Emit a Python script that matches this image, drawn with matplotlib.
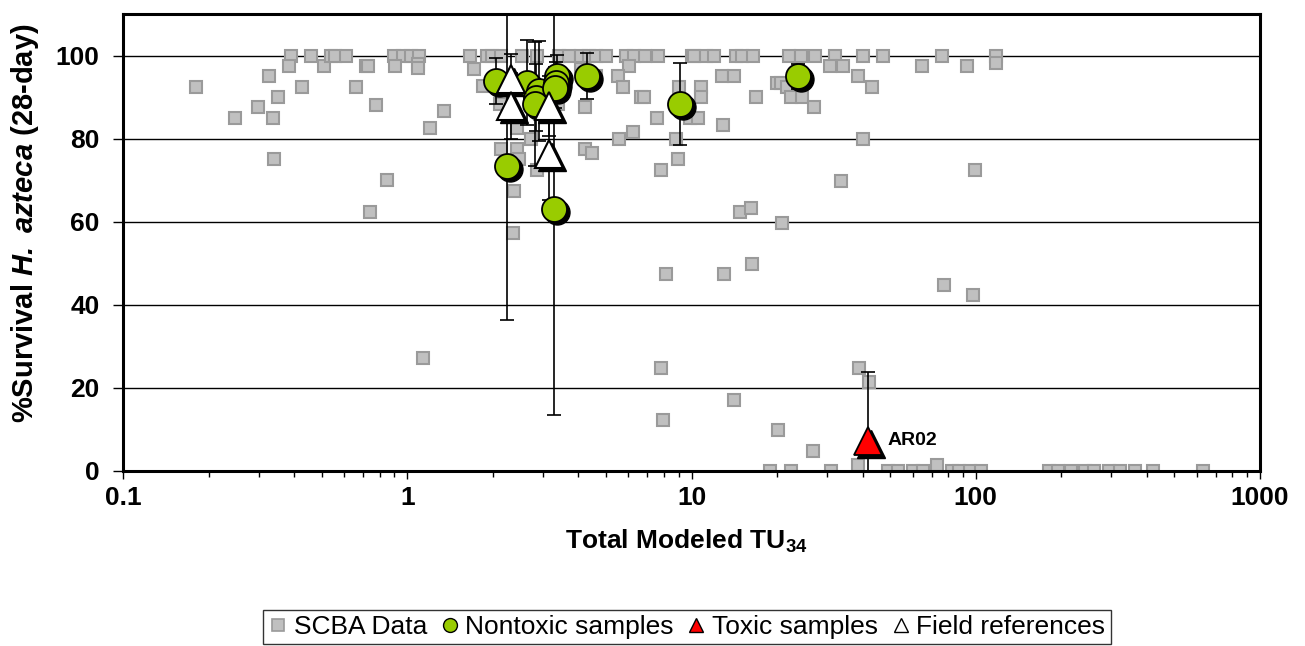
import matplotlib
matplotlib.use('Agg')
import matplotlib.pyplot as plt
import numpy as np
from matplotlib.lines import Line2D
from matplotlib.ticker import NullFormatter
from matplotlib.transforms import offset_copy

plt.rcParams['font.family'] = ['Liberation Sans', 'DejaVu Sans']
plt.rcParams['mathtext.fontset'] = 'custom'
plt.rcParams['mathtext.rm'] = 'Liberation Sans'
plt.rcParams['mathtext.bf'] = 'Liberation Sans:bold'
plt.rcParams['mathtext.bfit'] = 'Liberation Sans:italic:bold'

# SCBA data (total modeled TU34, % survival)
scba_tu = [0.18, 0.248, 0.298, 0.325, 0.336, 0.352, 0.339, 0.389, 0.383, 0.46, 0.425, 0.51,
           0.54, 0.555, 0.611, 0.658, 0.713, 0.727, 0.775, 0.741, 0.848, 0.897, 0.968, 1.03,
           1.10, 0.904, 1.09, 1.09, 1.20, 1.345, 1.135,
           1.66, 1.71, 1.91, 1.99, 2.13, 1.84, 2.12, 2.43, 2.54, 2.87, 2.72, 2.14, 2.43, 2.47,
           2.37, 2.35, 2.85, 3.39, 3.42, 3.71, 4.08, 4.36, 4.60, 4.99, 4.08, 4.21, 4.21, 4.48,
           4.60, 5.87, 6.29, 6.85, 7.63, 10.0, 6.03, 5.51, 5.76, 6.63, 6.80, 7.55, 6.20, 5.57,
           7.84, 8.93, 8.81, 9.04, 9.87, 10.5, 8.14, 7.84, 7.92,
           10.2, 11.2, 12.0, 14.3, 15.1, 16.4, 22.1, 24.3, 27.2, 32.0, 40.2, 47.3, 76.3, 118,
           118, 10.8, 10.8, 12.8, 14.1, 16.8, 12.9, 20.0, 20.6, 21.7, 22.3, 24.4, 27.0, 30.6,
           34.2, 38.4, 43.1, 64.7, 93.1, 40.0, 33.7, 99.7, 14.8, 16.2, 20.8, 13.0, 16.3, 77.1,
           98.1, 14.1, 20.1, 26.7, 38.9, 42.2, 38.4, 73.1,
           18.9, 22.4, 30.9, 49.2, 53.1, 60.0, 65.4, 82.3, 87.5, 95.7, 104.4, 181.6, 194.5,
           216.6, 242.7, 261.6, 295.5, 322, 363.8, 420, 630]
scba_surv = [92.5, 85, 87.5, 95, 85, 90, 75, 100, 97.5, 100, 92.5, 97.5,
             100, 100, 100, 92.5, 97.5, 97.5, 88.2, 62.4, 70, 100, 100, 100,
             100, 97.5, 98, 97, 82.5, 86.7, 27.3,
             100, 96.7, 100, 100, 100, 92.7, 88.3, 82.6, 100, 100, 80, 77.5, 77.5, 75,
             67.3, 57.4, 72.4, 88.3, 100, 100, 100, 100, 100, 100, 96.7, 87.5, 77.5, 76.6,
             95, 100, 100, 100, 100, 100, 97.5, 95, 92.5, 90, 90, 85, 81.6, 80,
             72.4, 75, 80, 92.5, 85, 85, 47.3, 24.7, 12.3,
             100, 100, 100, 100, 100, 100, 100, 100, 100, 100, 100, 100, 100, 100,
             98.2, 92.5, 90, 95, 95, 90, 83.3, 93.3, 93.3, 92.5, 90, 90, 87.5, 97.5,
             97.5, 95, 92.5, 97.5, 97.5, 80, 69.9, 72.4, 62.4, 63.2, 59.8, 47.3, 49.9, 44.8,
             42.3, 17.2, 9.75, 4.8, 24.7, 21.5, 1.4, 1.4,
             0, 0, 0, 0, 0, 0, 0, 0, 0, 0, 0, 0, 0,
             0, 0, 0, 0, 0, 0, 0, 0]

# Nontoxic samples
nt_tu = [2.05, 2.25, 2.63, 2.91, 2.83, 2.81, 3.37, 3.33, 3.30, 3.28, 4.30, 9.09, 23.6]
nt_surv = [93.8, 73.3, 93.5, 91.5, 89.9, 88.3, 95.1, 93.5, 92.3, 63.1, 95.1, 88.3, 95.0]
nt_sd = [5.5, 36.9, 10.3, 12.0, 8.0, 15.0, 5.0, 5.0, 5.0, 49.6, 5.6, 9.9, 3.0]

# Toxic samples
tox_tu = [41.7]
tox_surv = [7.3]
tox_sd = [16.6]
tox_labels = ['AR02']

# Field references
fr_tu = [2.32, 2.31, 3.15, 3.15]
fr_surv = [94.3, 87.9, 87.9, 76.2]
fr_sd = [6.0, 8.0, 7.3, 11.0]

green = '#99cc00'
sq_face = '#c0c0c0'
sq_edge = '#9a9a9a'

fig = plt.figure(figsize=(13.05, 6.46), dpi=100)
ax = fig.add_axes([0.0943, 0.2709, 0.8712, 0.7074])
ax.set_xscale('log')
ax.set_xlim(0.1, 1000)
ax.set_ylim(0, 110)

ax.yaxis.grid(True, color='black', linewidth=1.0)
ax.set_axisbelow(True)

ax.plot(scba_tu, scba_surv, 's', ms=8, mfc=sq_face, mec=sq_edge, mew=1.5, zorder=3)

# error bars
for xs, ys, es in [(nt_tu, nt_surv, nt_sd), (fr_tu, fr_surv, fr_sd), (tox_tu, tox_surv, tox_sd)]:
    ax.errorbar(xs, ys, yerr=es, fmt='none', ecolor='black', elinewidth=1.2,
                capsize=5, capthick=1.2, zorder=4)

# shadows
shadow = offset_copy(ax.transData, fig=fig, x=3, y=-3, units='dots')
ax.plot(nt_tu, nt_surv, 'o', ms=18, mfc='black', mec='black', transform=shadow, zorder=5)
ax.plot(fr_tu, fr_surv, '^', ms=20, mfc='black', mec='black', transform=shadow, zorder=5)
ax.plot(tox_tu, tox_surv, '^', ms=20, mfc='black', mec='black', transform=shadow, zorder=5)

ax.plot(nt_tu, nt_surv, 'o', ms=18, mfc=green, mec='black', mew=1.3, zorder=6)
ax.plot(fr_tu, fr_surv, '^', ms=20, mfc='white', mec='black', mew=1.5, zorder=6)
ax.plot(tox_tu, tox_surv, '^', ms=20, mfc='red', mec='black', mew=1.3, zorder=6)

for x, y, lab in zip(tox_tu, tox_surv, tox_labels):
    ax.annotate(lab, (x, y), xytext=(14, 0), textcoords='offset points',
                ha='left', va='center', fontsize=14, fontweight='bold', zorder=7)

for sp in ax.spines.values():
    sp.set_linewidth(2.2)
    sp.set_zorder(8)

ax.set_xticks([0.1, 1, 10, 100, 1000])
ax.set_xticklabels(['0.1', '1', '10', '100', '1000'])
ax.xaxis.set_minor_formatter(NullFormatter())
ax.set_yticks([0, 20, 40, 60, 80, 100])
ax.tick_params(axis='both', which='major', direction='out', labelsize=19, width=1.0)
ax.tick_params(axis='x', which='major', length=6, pad=5)
ax.tick_params(axis='x', which='minor', direction='out', length=4, width=1.0)
ax.tick_params(axis='y', which='major', length=7, pad=10)
for lab in ax.get_xticklabels() + ax.get_yticklabels():
    lab.set_fontweight('bold')

fig.text(0.526, 0.1625, r'Total Modeled TU$_\mathbf{34}$', ha='center', va='center',
         fontsize=19, fontweight='bold')
fig.text(0.019, 0.655, r'%Survival $\mathbfit{H.}$ $\mathbfit{azteca}$ (28-day)', ha='center',
         va='center', rotation=90, fontsize=21, fontweight='bold')

handles = [
    Line2D([], [], ls='none', marker='s', ms=8, mfc=sq_face, mec=sq_edge, mew=1.2),
    Line2D([], [], ls='none', marker='o', ms=10, mfc=green, mec='black', mew=1.0),
    Line2D([], [], ls='none', marker='^', ms=10, mfc='red', mec='black', mew=1.0),
    Line2D([], [], ls='none', marker='^', ms=10, mfc='white', mec='black', mew=1.0),
]
labels = ['SCBA Data', 'Nontoxic samples', 'Toxic samples', 'Field references']
leg = fig.legend(handles, labels, loc='center', bbox_to_anchor=(0.5265, 0.0295), ncol=4,
                 frameon=True, fancybox=False, edgecolor='black', handlelength=0.7,
                 handletextpad=0.25, columnspacing=0.5, borderpad=0.2,
                 prop={'family': ['Liberation Sans Narrow', 'Liberation Sans'], 'size': 19})
leg.get_frame().set_linewidth(1.0)

fig.savefig('out.png', dpi=100)
